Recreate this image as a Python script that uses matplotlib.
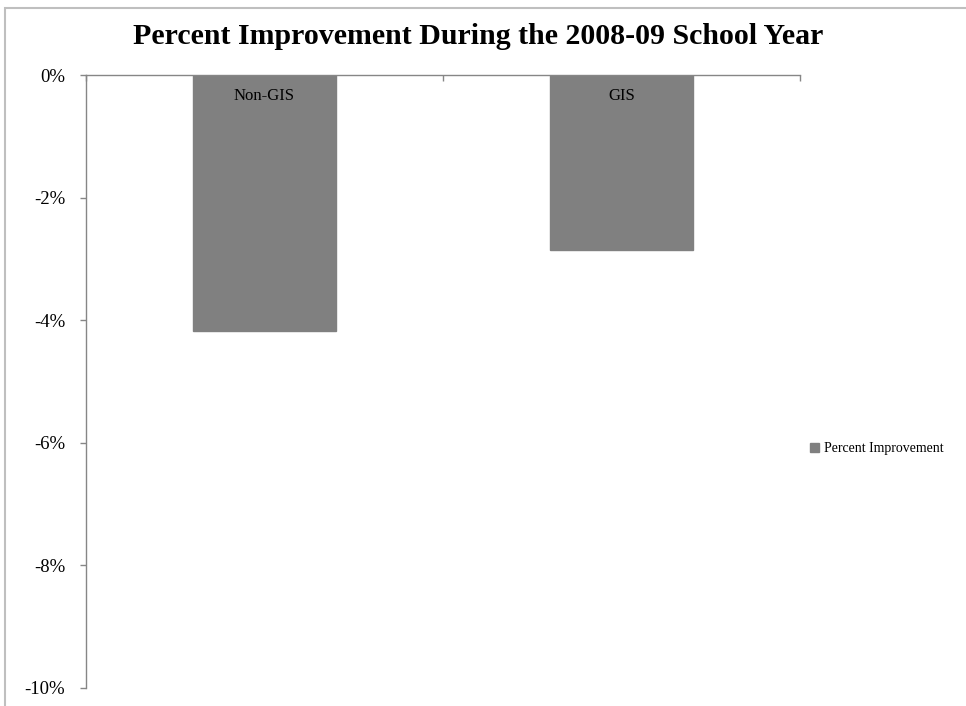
import matplotlib
matplotlib.use("Agg")
import matplotlib.pyplot as plt
from matplotlib.patches import Rectangle, Patch
from matplotlib.ticker import FuncFormatter

categories = ["Non-GIS", "GIS"]
values = [-4.17, -2.85]
series_name = "Percent Improvement"
title = "Percent Improvement During the 2008-09 School Year"
yticks = [0, -2, -4, -6, -8, -10]

plt.rcParams['font.family'] = ['Liberation Serif', 'DejaVu Serif']

W, H = 966, 706
fig = plt.figure(figsize=(W / 100, H / 100), dpi=100)

# outer chart frame
fig.patches.append(Rectangle((5 / W, -0.1), 1.2, (H - 8) / H + 0.1,
                             transform=fig.transFigure, fill=False,
                             edgecolor='#bfbfbf', lw=1.5))

ax = fig.add_axes([86 / W, (H - 688) / H, (800 - 86) / W, (688 - 75) / H])
x = list(range(len(categories)))
ax.bar(x, values, width=0.4, color='#808080', edgecolor='#808080', zorder=2,
       label=series_name)
ax.set_xlim(-0.5, len(categories) - 0.5)
ax.set_ylim(-10, 0)
ax.set_yticks(yticks)
ax.yaxis.set_major_formatter(FuncFormatter(lambda v, p: f"{v:.0f}%"))
ax.tick_params(axis='y', direction='out', length=4, width=1, color='#868686',
               labelsize=13.5, pad=11)

for s in ['right', 'bottom']:
    ax.spines[s].set_visible(False)
for s in ['left', 'top']:
    ax.spines[s].set_color('#868686')
    ax.spines[s].set_linewidth(1)

ax.xaxis.set_ticks_position('top')
ax.set_xticks([i - 0.5 for i in range(len(categories) + 1)])
ax.set_xticklabels([])
ax.tick_params(axis='x', direction='in', length=4, width=1, color='#868686')

for xi, c in zip(x, categories):
    ax.annotate(c, (xi, 0), xytext=(0, -15), textcoords='offset points',
                ha='center', va='center', fontsize=12, color='black', zorder=3)

fig.text(478 / W, 1 - 37 / H, title, ha='center', va='center',
         fontsize=21.5, fontweight='bold')

handle = Patch(facecolor='#808080', edgecolor='#808080')
fig.legend([handle], [series_name], loc='center left',
           bbox_to_anchor=(810 / W, 1 - 449 / H), frameon=False,
           fontsize=10, handlelength=0.65, handleheight=0.65,
           handletextpad=0.35, borderaxespad=0, borderpad=0)

fig.savefig("out.png", dpi=100)
